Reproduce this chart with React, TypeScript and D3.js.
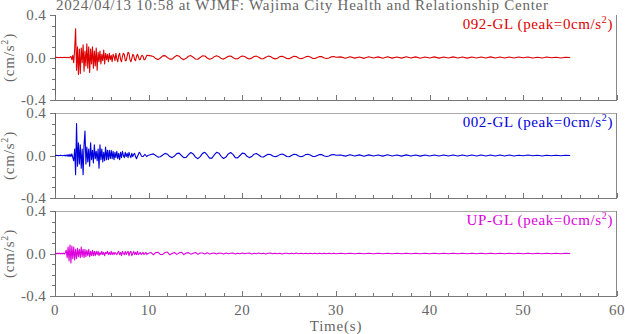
import React from "react";
import * as d3 from "d3";

// ---------- data ----------
const titleText = "2024/04/13 10:58 at WJMF: Wajima City  Health and Relationship Center";
const channels = ["092-GL", "002-GL", "UP-GL"];
const peaks = ["0", "0", "0"];
const xTicks = [0, 10, 20, 30, 40, 50, 60];
const yTicks = [-0.4, 0.0, 0.4];

// sampling: early part 0..9.9 s every 0.1 s, mid part 10.25..30 s every 0.25 s, tail 30.5..55 s every 0.5 s
const earlyStart = 0, earlyStep = 0.1;
const midStart = 10.25, midStep = 0.25;
const tailStart = 30.5, tailStep = 0.5;

const nsEarly = [
  0, 0, 0.002, 0, -0.002, 0, 0.001, 0, -0.001, 0,
  0.002, 0, -0.002, 0.001, 0, -0.003, 0.004, 0.01, -0.02, 0.02,
  -0.05, 0.08, 0.27, -0.12, 0.1, -0.16, 0.08, -0.15, 0.09, -0.05,
  0.12, -0.13, 0.06, -0.08, 0.13, -0.1, 0.1, -0.14, 0.08, -0.06,
  0.1, -0.1, 0.06, -0.08, 0.09, -0.12, 0.05, -0.04, 0.06, -0.06,
  0.03, -0.03, 0.07, -0.06, 0.04, -0.02, 0.03, -0.04, 0.04, -0.02,
  0.02, -0.04, 0.03, 0.01, -0.03, 0.04, -0.01, -0.04, 0.02, 0.04,
  -0.02, -0.04, 0.01, 0.04, 0.03, -0.03, -0.03, 0.01, 0.05, 0.04,
  -0.02, -0.04, -0.01, 0.03, 0.02, -0.02, -0.03, 0.01, 0.03, 0.01,
  -0.02, -0.02, 0.01, 0.02, 0.01, -0.02, -0.02, 0.0, 0.02, 0.02,
];
const nsMid = [
  0.015, 0.01, -0.01, -0.02, -0.005, 0.015, 0.018, 0.0, -0.015, -0.015,
  0.005, 0.02, 0.012, -0.01, -0.02, -0.008, 0.012, 0.018, 0.003, -0.014,
  -0.016, 0.0, 0.015, 0.014, -0.005, -0.016, -0.01, 0.008, 0.016, 0.008,
  -0.01, -0.015, -0.003, 0.012, 0.014, 0.0, -0.013, -0.012, 0.004, 0.014,
  0.01, -0.006, -0.014, -0.006, 0.01, 0.013, 0.002, -0.012, -0.012, 0.002,
  0.013, 0.01, -0.006, -0.013, -0.007, 0.008, 0.012, 0.003, -0.01, -0.011,
  0.0, 0.011, 0.009, -0.004, -0.011, -0.006, 0.006, 0.011, 0.004, -0.008,
  -0.01, 0.0, 0.01, 0.008, -0.004, -0.01, -0.005, 0.006, 0.01, 0.003,
];
const nsTail = [
  0.006, -0.007, 0.008, -0.006, 0.005, -0.008, 0.007, -0.005, 0.006, -0.007,
  0.008, -0.006, 0.004, -0.006, 0.007, -0.005, 0.006, -0.007, 0.005, -0.004,
  0.006, -0.006, 0.005, -0.005, 0.006, -0.004, 0.005, -0.006, 0.004, -0.005,
  0.005, -0.004, 0.006, -0.005, 0.004, -0.004, 0.005, -0.005, 0.004, -0.003,
  0.005, -0.004, 0.003, -0.004, 0.004, -0.003, 0.003, -0.004, 0.003, 0.0,
];

const ewEarly = [
  0, 0, 0.001, 0, -0.001, 0, 0.002, 0, -0.002, 0,
  0.002, -0.004, 0.005, -0.006, 0.008, -0.01, 0.012, -0.01, 0.015, -0.02,
  -0.05, 0.06, -0.18, 0.3, -0.1, 0.12, -0.08, 0.1, -0.12, 0.06,
  -0.18, 0.1, 0.23, -0.08, 0.08, -0.06, 0.06, -0.1, 0.12, -0.04,
  0.05, -0.07, 0.1, -0.03, 0.04, -0.05, 0.06, -0.12, 0.1, -0.04,
  0.06, -0.06, 0.03, -0.05, 0.08, -0.04, 0.05, -0.04, 0.05, -0.03,
  0.05, -0.03, 0.04, -0.04, 0.03, -0.02, 0.04, -0.03, 0.02, -0.04,
  0.03, -0.02, 0.04, 0.0, -0.02, 0.03, -0.01, 0.02, -0.02, 0.03,
  0.0, -0.02, 0.02, -0.01, 0.01, 0.02, -0.01, -0.03, -0.01, 0.01,
  0.03, 0.02, 0.0, -0.01, -0.01, 0.0, 0.01, 0.0, -0.01, 0.0,
];
const ewMid = [
  0.01, 0.015, 0.0, -0.015, -0.012, 0.005, 0.02, 0.012, -0.01, -0.02,
  -0.005, 0.018, 0.022, 0.0, -0.02, -0.018, 0.008, 0.028, 0.015, -0.015,
  -0.03, -0.01, 0.02, 0.03, 0.005, -0.025, -0.025, 0.005, 0.03, 0.022,
  -0.01, -0.028, -0.015, 0.015, 0.028, 0.01, -0.02, -0.022, 0.0, 0.022,
  0.018, -0.008, -0.02, -0.01, 0.012, 0.018, 0.005, -0.012, -0.014, 0.0,
  0.012, 0.01, -0.005, -0.012, -0.006, 0.008, 0.015, 0.005, -0.01, -0.012,
  0.0, 0.012, 0.01, -0.005, -0.012, -0.006, 0.008, 0.012, 0.004, -0.008,
  -0.01, 0.0, 0.01, 0.008, -0.004, -0.01, -0.005, 0.006, 0.01, 0.003,
];
const ewTail = [
  0.005, -0.006, 0.007, -0.005, 0.006, -0.007, 0.006, -0.004, 0.005, -0.006,
  0.007, -0.005, 0.004, -0.006, 0.006, -0.005, 0.005, -0.006, 0.005, -0.004,
  0.005, -0.005, 0.004, -0.005, 0.005, -0.004, 0.004, -0.005, 0.004, -0.004,
  0.005, -0.004, 0.005, -0.004, 0.004, -0.004, 0.004, -0.004, 0.003, -0.003,
  0.004, -0.003, 0.003, -0.004, 0.003, -0.003, 0.003, -0.003, 0.002, 0.0,
];

const udEarly = [
  0, 0.003, -0.003, 0.004, -0.002, 0.003, -0.004, 0.002, -0.003, 0.004,
  -0.005, 0.006, 0.03, -0.04, 0.06, -0.07, 0.08, -0.09, 0.07, -0.05,
  0.06, -0.06, 0.04, -0.05, 0.05, -0.03, 0.04, -0.04, 0.06, -0.03,
  0.04, -0.04, 0.04, -0.03, 0.03, -0.02, 0.04, -0.03, 0.02, -0.02,
  0.03, -0.02, 0.02, -0.02, 0.02, -0.01, 0.02, -0.02, 0.01, -0.01,
  0.02, -0.01, 0.01, -0.02, 0.01, 0.0, 0.02, -0.01, 0.01, -0.01,
  0.02, -0.01, 0.01, -0.01, 0.01, 0.0, -0.01, 0.01, 0.02, -0.01,
  0.01, -0.02, 0.02, 0.0, -0.01, 0.02, -0.01, 0.01, 0.02, -0.02,
  0.01, 0.02, -0.02, 0.0, 0.02, -0.01, 0.01, -0.01, 0.02, -0.01,
  0.0, 0.01, -0.01, 0.0, 0.01, -0.01, 0.0, 0.01, -0.01, 0.0,
];
const udMid = [
  0.01, -0.012, 0.008, 0.012, -0.01, -0.008, 0.01, 0.014, -0.012, 0.0,
  0.01, -0.008, 0.006, 0.012, -0.01, 0.004, 0.008, -0.006, 0.003, 0.01,
  -0.008, 0.005, 0.004, -0.005, 0.006, -0.004, 0.003, 0.005, -0.005, 0.004,
  0.003, -0.004, 0.004, -0.003, 0.003, 0.004, -0.004, 0.003, -0.003, 0.004,
  -0.003, 0.003, 0.005, -0.004, 0.003, -0.003, 0.004, -0.003, 0.003, -0.004,
  0.003, 0.004, -0.003, 0.003, -0.003, 0.003, -0.004, 0.003, 0.003, -0.003,
  0.003, -0.003, 0.004, -0.003, 0.002, -0.003, 0.003, -0.002, 0.003, -0.003,
  0.002, -0.003, 0.003, -0.002, 0.002, -0.003, 0.002, -0.002, 0.003, -0.002,
];
const udTail = [
  0.002, -0.003, 0.002, -0.002, 0.003, -0.002, 0.002, -0.003, 0.002, -0.002,
  0.002, -0.002, 0.003, -0.002, 0.002, -0.002, 0.002, -0.003, 0.002, -0.002,
  0.002, -0.002, 0.002, -0.002, 0.003, -0.002, 0.002, -0.002, 0.002, -0.002,
  0.002, -0.002, 0.002, -0.002, 0.002, -0.002, 0.002, -0.002, 0.002, -0.002,
  0.002, -0.002, 0.002, -0.002, 0.002, -0.002, 0.002, -0.002, 0.002, 0.0,
];

const seriesParts = [
  [nsEarly, nsMid, nsTail],
  [ewEarly, ewMid, ewTail],
  [udEarly, udMid, udTail],
];
const colors = ["#dd0000", "#0000dd", "#dd00dd"];

// ---------- layout ----------
const W = 625, H = 334;
const left = 55, right = 617;
const panelTops = [15, 113, 211];
const panelH = 85;
const font = "'Liberation Serif', 'Times New Roman', serif";
const textGray = "#666";
const fs = 15;

function buildPoints(parts: number[][]) {
  const [e, m, t] = parts;
  const pts: [number, number][] = [];
  e.forEach((v, i) => pts.push([earlyStart + i * earlyStep, v]));
  m.forEach((v, i) => pts.push([midStart + i * midStep, v]));
  t.forEach((v, i) => pts.push([tailStart + i * tailStep, v]));
  return pts;
}

export default function App() {
  const x = d3.scaleLinear().domain([0, 60]).range([left, right]);
  const minorX = d3.range(0, 61, 2);
  const minorY = d3.range(-4, 5).map((d) => d / 10);

  return (
    <svg
      width={W}
      height={H}
      style={{ position: "absolute", left: 0, top: 0, background: "#fff" }}
      fontFamily={font}
    >
      <rect x={0} y={0} width={W} height={H} fill="#fff" />
      <text x={56} y={10} fontSize={fs} fill={textGray} textLength={492} lengthAdjust="spacing">
        {titleText}
      </text>
      {seriesParts.map((parts, k) => {
        const top = panelTops[k];
        const y = d3.scaleLinear().domain([-0.4, 0.4]).range([top + panelH, top]);
        const line = d3
          .line<[number, number]>()
          .x((d) => x(d[0]))
          .y((d) => y(d[1]));
        const pts = buildPoints(parts);
        const bottom = top + panelH;
        return (
          <g key={k}>
            {k > 0 && <line x1={left} x2={right} y1={top + 0.5} y2={top + 0.5} stroke="#aaa" strokeWidth={1} />}
            <line x1={right - 0.5} x2={right - 0.5} y1={top} y2={bottom} stroke="#888" strokeWidth={1} />
            <line x1={left + 0.5} x2={left + 0.5} y1={top} y2={bottom} stroke="#666" strokeWidth={1} />
            <line x1={left} x2={right} y1={bottom + 0.5} y2={bottom + 0.5} stroke="#777" strokeWidth={1} />
            {minorX.map((t) => (
              <line
                key={"xt" + t}
                x1={Math.round(x(t)) + 0.5}
                x2={Math.round(x(t)) + 0.5}
                y1={bottom}
                y2={bottom - (t % 10 === 0 ? 5 : 3)}
                stroke="#777"
                strokeWidth={1}
              />
            ))}
            {minorY.map((v, i) => (
              <line
                key={"yt" + i}
                x1={left - (i % 4 === 0 ? 5 : 3)}
                x2={left}
                y1={Math.round(y(v)) + 0.5}
                y2={Math.round(y(v)) + 0.5}
                stroke="#777"
                strokeWidth={1}
              />
            ))}
            {yTicks.map((v) => (
              <text
                key={"yl" + v}
                x={46}
                y={y(v) + 5}
                fontSize={fs}
                fill={textGray}
                textAnchor="end"
                letterSpacing={0.3}
              >
                {v.toFixed(1)}
              </text>
            ))}
            <text
              transform={`translate(${14},${top + panelH / 2}) rotate(-90)`}
              fontSize={fs}
              fill={textGray}
              textAnchor="middle"
              letterSpacing={0.8}
            >
              (cm/s<tspan dy={-6} fontSize={10}>2</tspan>
              <tspan dy={6}>)</tspan>
            </text>
            <path d={line(pts) || ""} fill="none" stroke={colors[k]} strokeWidth={1.1} strokeLinejoin="round" />
            <text
              x={613}
              y={top + 14}
              fontSize={fs}
              fill={colors[k]}
              textAnchor="end"
              letterSpacing={0.6}
            >
              {channels[k]} (peak={peaks[k]}cm/s<tspan dy={-6} fontSize={10}>2</tspan>
              <tspan dy={6}>)</tspan>
            </text>
          </g>
        );
      })}
      {xTicks.map((t) => (
        <text key={"xl" + t} x={x(t)} y={315} fontSize={fs} fill={textGray} textAnchor="middle" letterSpacing={0.5}>
          {t}
        </text>
      ))}
      <text x={(left + right) / 2} y={331} fontSize={fs} fill={textGray} textAnchor="middle" letterSpacing={0.8}>
        Time(s)
      </text>
    </svg>
  );
}
